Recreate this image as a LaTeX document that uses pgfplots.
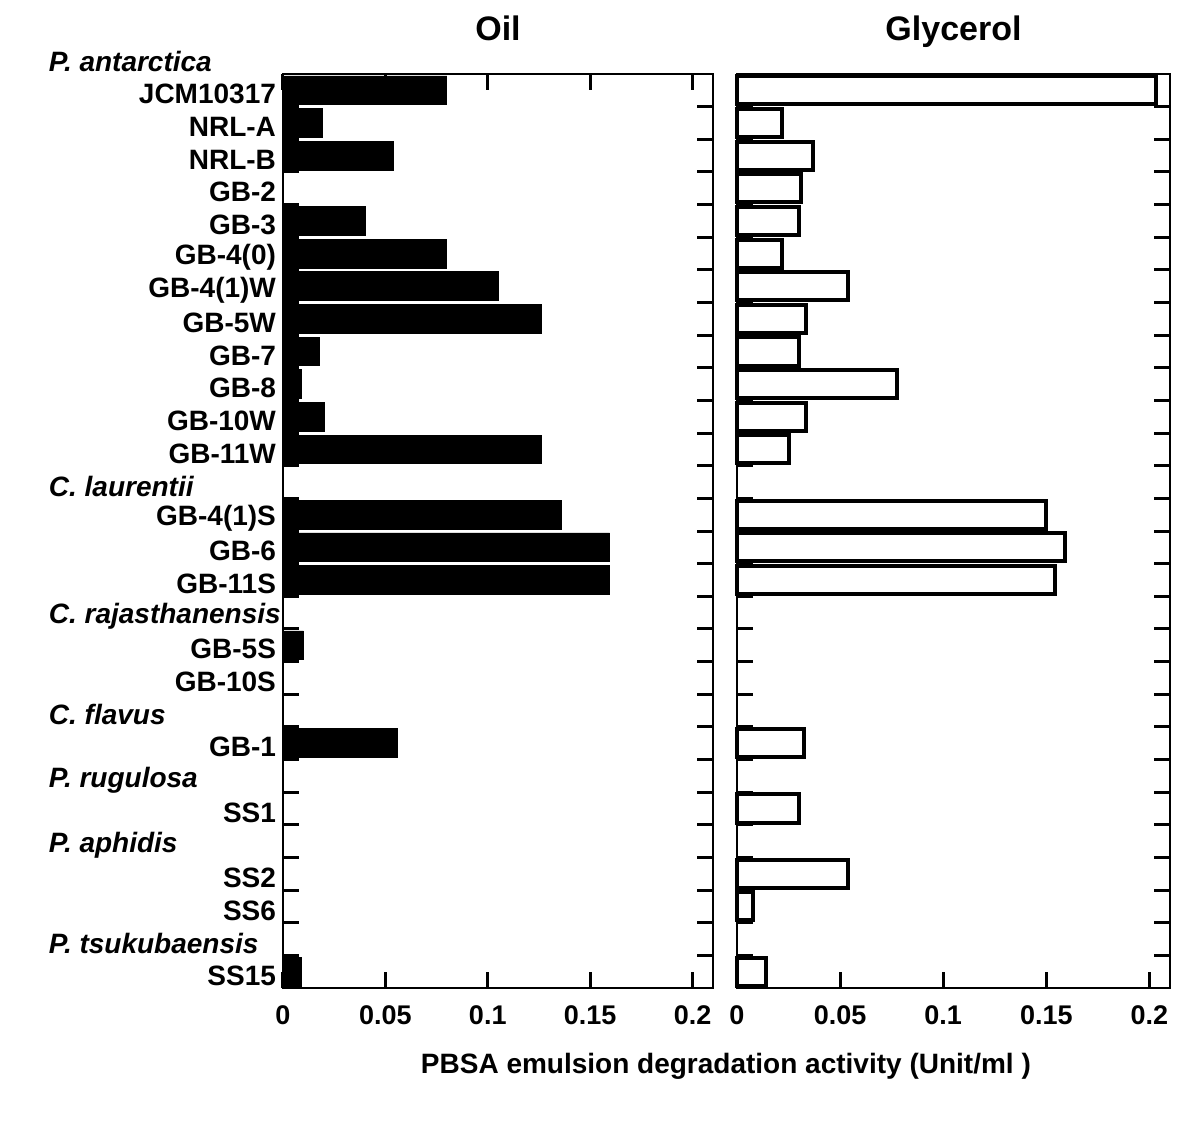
\documentclass[border=0pt]{standalone}
\usepackage{pgfplots}
\pgfplotsset{compat=1.18}
\usepackage{pgfplotstable}
\usepackage{fontspec}
\setmainfont{Liberation Sans}

\pgfplotstableread{
val row
0.080 1
0.019 2
0.054 3
0.040 5
0.080 6
0.105 7
0.126 8
0.0176 9
0.009 10
0.020 11
0.126 12
0.136 14
0.1595 15
0.1595 16
0.010 18
0.056 21
0.009 28
}\oildata

\pgfplotstableread{
val row
0.203 1
0.022 2
0.037 3
0.031 4
0.030 5
0.022 6
0.054 7
0.0335 8
0.030 9
0.0777 10
0.0335 11
0.0250 12
0.150 14
0.159 15
0.154 16
0.0325 21
0.030 23
0.054 25
0.0078 26
0.014 28
}\glydata

\newcommand{\hdr}[1]{\makebox[113.5pt][l]{\itshape #1}}

\pgfplotsset{
  panel/.style={
    scale only axis,
    y dir=reverse,
    ymin=0.5, ymax=28.5,
    xmin=0, xmax=0.21,
    axis line style={line width=1.3pt},
    xtick={0,0.05,0.1,0.15,0.2},
    xticklabels={0,0.05,0.1,0.15,0.2},
    xticklabel style={font=\bfseries\fontsize{13.5}{15}\selectfont, yshift=-5.5pt},
    major tick length=8pt,
    minor tick length=8pt,
    tick style={line width=1.5pt, black},
    tick align=inside,
    ytick={1,...,28},
    minor ytick={1.5,2.5,...,27.5},
    every major y tick/.append style={draw=none},
    title style={font=\bfseries\fontsize{17}{19}\selectfont, at={(0.5,1)}, anchor=base, yshift=11pt},
    clip=false,
  }
}

\begin{document}
\begin{tikzpicture}
\useasboundingbox (0,0) rectangle (600pt,-568.5pt);
\begin{axis}[panel,
  at={(141.5pt,-494pt)}, anchor=south west,
  width=215pt, height=457pt,
  title={Oil},
  yticklabels={JCM10317,NRL-A,NRL-B,GB-2,GB-3,GB-4(0),GB-4(1)W,GB-5W,GB-7,GB-8,GB-10W,GB-11W,
    \hdr{C. laurentii},GB-4(1)S,GB-6,GB-11S,\hdr{C. rajasthanensis},GB-5S,GB-10S,
    \hdr{C. flavus},GB-1,\hdr{P. rugulosa},SS1,\hdr{P. aphidis},SS2,SS6,\hdr{P. tsukubaensis},SS15},
  yticklabel style={font=\bfseries\fontsize{14}{16}\selectfont, yshift=-2pt},
  xlabel={PBSA emulsion degradation activity (Unit/ml )},
  xlabel style={font=\bfseries\fontsize{14}{16}\selectfont, at={(axis description cs:1.03,0)}, anchor=base, yshift=-42.5pt},
]
\addplot[xbar, bar width=0.88, fill=black, draw=black] table[x=val, y=row] {\oildata};
\node[anchor=east, font=\bfseries\fontsize{14}{16}\selectfont, yshift=-2pt] at (axis cs:0,0) {\hdr{P. antarctica}};
\end{axis}
\begin{axis}[panel,
  at={(368.5pt,-494pt)}, anchor=south west,
  width=216.5pt, height=457pt,
  title={Glycerol},
  yticklabels={},
]
\addplot[xbar, bar width=0.86, fill=white, draw=black, line width=2pt] table[x=val, y=row] {\glydata};
\end{axis}
\end{tikzpicture}
\end{document}
